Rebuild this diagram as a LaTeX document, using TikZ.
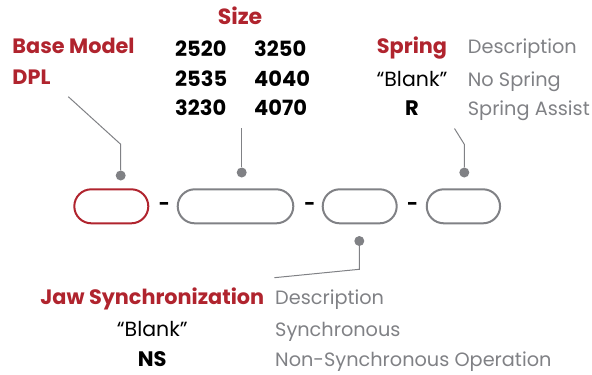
\documentclass[tikz,border=0pt]{standalone}
\usepackage{fontspec}
\setmainfont{Poppins}
\definecolor{brandred}{RGB}{176,36,46}
\definecolor{tgray}{RGB}{128,129,133}
\begin{document}
\begin{tikzpicture}[x=1pt,y=-1pt,
  pill/.style={draw=tgray, line width=2pt, rounded corners=17pt, minimum height=34pt, inner sep=0pt},
  redpill/.style={pill, draw=brandred},
  dot/.style={circle, fill=tgray, minimum size=10pt, inner sep=0pt},
  conn/.style={draw=tgray, line width=1pt},
  hdr/.style={font=\bfseries\fontsize{20.8}{20.8}\selectfont, text=brandred, inner sep=0pt},
  num/.style={font=\bfseries\fontsize{21}{21}\selectfont, text=black, inner sep=0pt},
  code/.style={font=\fontsize{20.5}{20.5}\selectfont, text=black, inner sep=0pt},
  bcode/.style={font=\bfseries\fontsize{21}{21}\selectfont, text=black, inner sep=0pt},
  desc/.style={font=\fontsize{19.3}{19.3}\selectfont, text=tgray, inner sep=0pt},
  sepdash/.style={font=\bfseries\fontsize{19}{19}\selectfont, text=black, inner sep=0pt}
]
\useasboundingbox (0,0) rectangle (592,375);

% pills
\node[redpill, minimum width=74pt] (p1) at (111.3,206.3) {};
\node[pill, minimum width=115.6pt] (p2) at (235.5,206.3) {};
\node[pill, minimum width=74pt] (p3) at (359.7,206.3) {};
\node[pill, minimum width=73.3pt] (p4) at (463.4,206.3) {};

% separators
\node[sepdash] (s1) at (164.3,206.7) {-};
\node[sepdash] (s2) at (310,206.7) {-};
\node[sepdash] (s3) at (412.7,206.7) {-};

% dots
\node[dot] (d1) at (120.7,175.5) {};
\node[dot] (d2) at (241.7,172.5) {};
\node[dot] (d4) at (464.3,172.5) {};
\node[dot] (d3) at (359.3,241) {};

% connector bends / ends
\coordinate (b1) at (120.7,144.3);
\coordinate (t1) at (68.3,96.7);
\coordinate (t2) at (241.7,128.3);
\coordinate (b4) at (464.3,144.3);
\coordinate (t4) at (454.5,128.5);
\coordinate (b3) at (359.3,269.3);
\coordinate (t3) at (274.3,277.7);

\draw[conn] (d1) -- (b1) -- (t1);
\draw[conn] (d2) -- (t2);
\draw[conn] (d4) -- (b4) -- (t4);
\draw[conn] (d3) -- (b3) -- (t3);

% Base model
\node[hdr, anchor=base west] (bm) at (12.3,53.3) {Base Model};
\node[hdr, anchor=base west] (dpl) at (12.3,84.3) {DPL};

% Size
\node[hdr, font=\bfseries\fontsize{22}{22}\selectfont, anchor=base] (size) at (240,24) {Size};
\node[num, anchor=base west] (n11) at (175,56.7) {2520};
\node[num, anchor=base west] (n12) at (254,56.7) {3250};
\node[num, anchor=base west] (n21) at (175,86.7) {2535};
\node[num, anchor=base west] (n22) at (254,86.7) {4040};
\node[num, anchor=base west] (n31) at (175,115) {3230};
\node[num, anchor=base west] (n32) at (254,115) {4070};

% Spring
\node[hdr, anchor=base] (spr) at (412,53.3) {Spring};
\node[desc, anchor=base west] (sprd) at (467.7,53.3) {Description};
\node[code, anchor=base] (sb) at (412,86) {“Blank”};
\node[desc, anchor=base west] (sbd) at (467.7,86) {No Spring};
\node[bcode, anchor=base] (sr) at (412,115) {R};
\node[desc, anchor=base west] (srd) at (467.7,115) {Spring Assist};

% Jaw synchronization
\node[hdr, anchor=base] (jaw) at (152.3,304) {Jaw Synchronization};
\node[desc, anchor=base west] (jawd) at (275,304) {Description};
\node[code, anchor=base] (jb) at (152.3,336.7) {“Blank”};
\node[desc, anchor=base west] (jbd) at (275,336.7) {Synchronous};
\node[bcode, anchor=base] (jns) at (152.3,366.5) {NS};
\node[desc, anchor=base west] (jnsd) at (275,366.5) {Non-Synchronous Operation};
\end{tikzpicture}
\end{document}
